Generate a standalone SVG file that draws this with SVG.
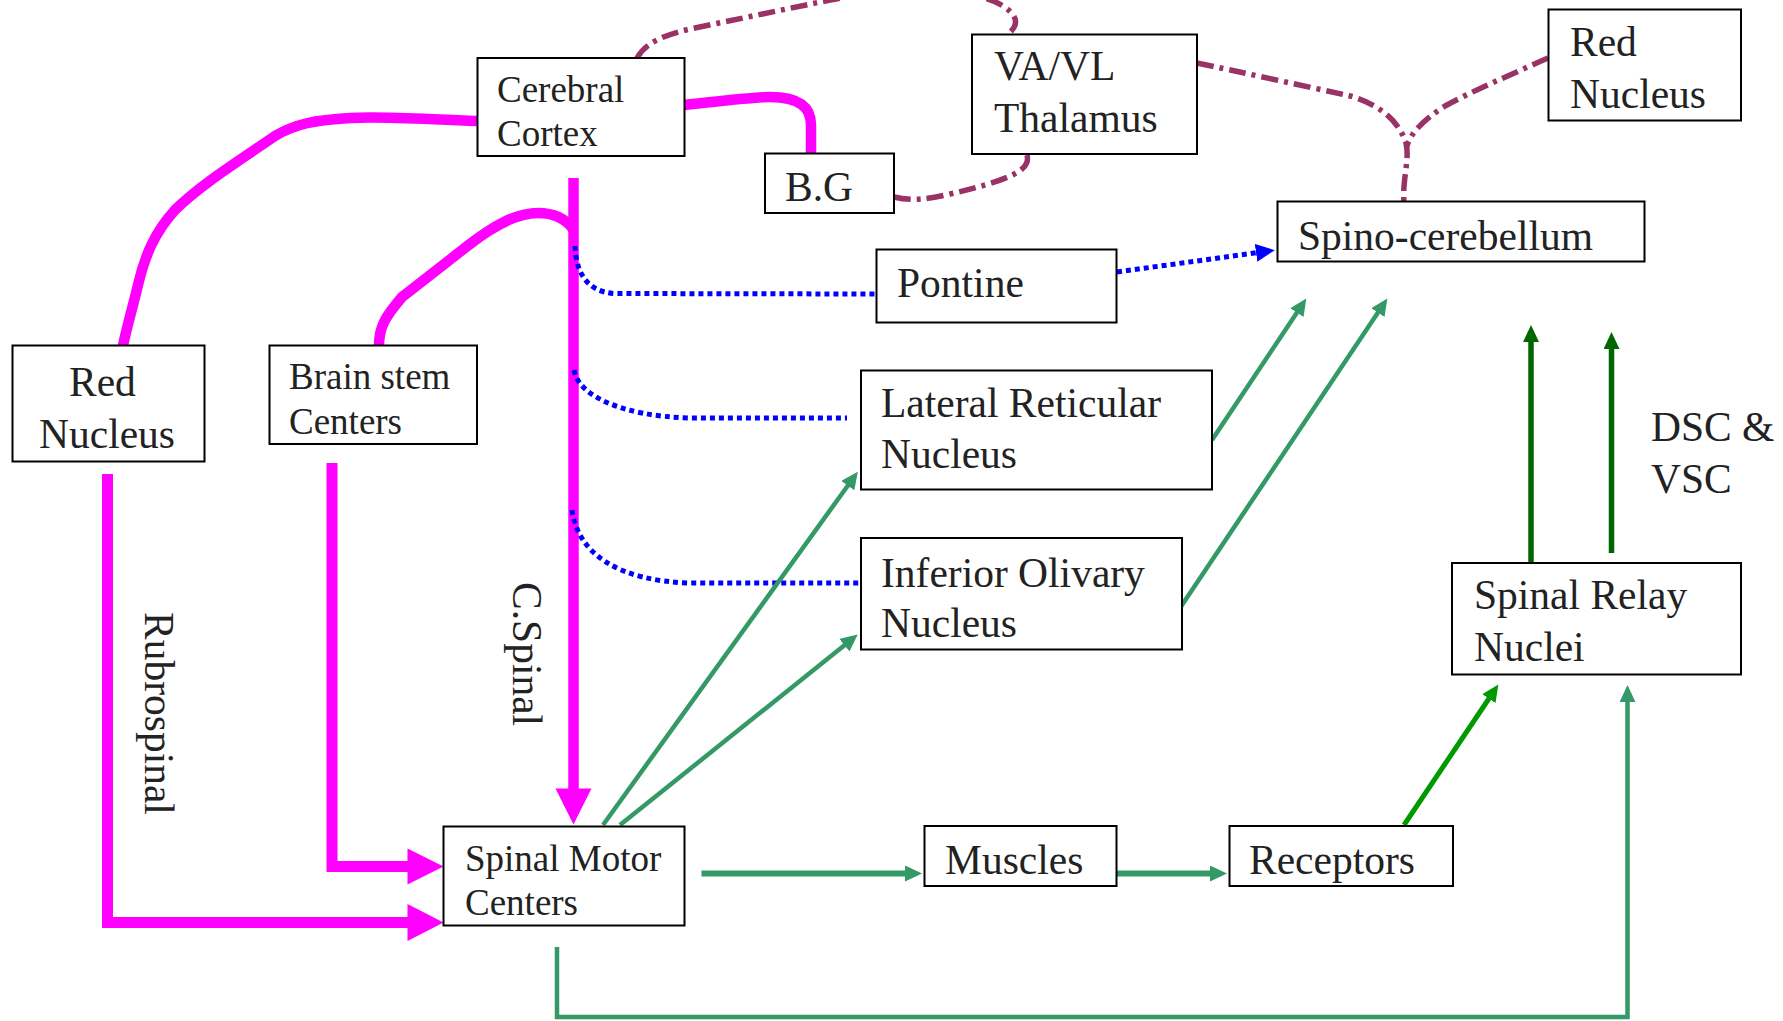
<svg xmlns="http://www.w3.org/2000/svg" width="1783" height="1021" viewBox="0 0 1783 1021">
<style>
.box{fill:#fff;stroke:#000;stroke-width:2}
.t{font-family:"Liberation Serif","Times New Roman",serif;fill:#222;font-size:41.5px}
.s{font-size:37px}
.mag{fill:none;stroke:#ff00ff;stroke-width:10.5;stroke-linejoin:miter}
.blue{fill:none;stroke:#0000ff;stroke-width:5;stroke-dasharray:5 4}
.grn{fill:none;stroke:#339966;stroke-width:4.5}
.pur{fill:none;stroke:#993366;stroke-width:5.5;stroke-dasharray:17 6 4 6}
</style>
<defs>
<marker id="ag" markerUnits="userSpaceOnUse" markerWidth="20" markerHeight="20" refX="2" refY="8" orient="auto"><path d="M0,0 L17,8 L0,16 Z" fill="#339966"/></marker>
<marker id="ab" markerUnits="userSpaceOnUse" markerWidth="22" markerHeight="20" refX="2" refY="9" orient="auto"><path d="M0,0 L19,9 L0,18 Z" fill="#0000ff"/></marker>
<marker id="abg" markerUnits="userSpaceOnUse" markerWidth="20" markerHeight="20" refX="2" refY="8" orient="auto"><path d="M0,0 L17,8 L0,16 Z" fill="#009900"/></marker>
<marker id="adg" markerUnits="userSpaceOnUse" markerWidth="20" markerHeight="20" refX="2" refY="8" orient="auto"><path d="M0,0 L17,8 L0,16 Z" fill="#006600"/></marker>
</defs>
<rect width="1783" height="1021" fill="#fff"/>
<g id="connectors">
<!-- magenta -->
<path class="mag" d="M477,121 C 420,119 380,116 350,118 C 315,120 295,124 275,136 C 240,160 200,185 175,210 C 155,232 145,255 138,285 C 132,310 126,330 123,346"/>
<path class="mag" d="M684,105 C 720,101 750,97 770,97 C 800,97 811,108 811,125 L 811,154"/>
<path class="mag" d="M573.5,178 L 573.5,790"/>
<polygon points="555.5,788.5 591.5,788.5 573.5,824.5" fill="#ff00ff"/>
<path class="mag" d="M573,229 C 565,218 552,213 538,213 C 515,213 492,227 470,244 L 402,297 C 386,316 379,326 379,346"/>
<path class="mag" style="stroke-width:11" d="M107.5,474 L 107.5,922.5 L 409,922.5"/>
<polygon points="407.5,904 443.5,922.5 407.5,941" fill="#ff00ff"/>
<path class="mag" style="stroke-width:11" d="M332,463 L 332,866.5 L 409,866.5"/>
<polygon points="407.5,848.5 443.5,866.5 407.5,884.5" fill="#ff00ff"/>
<!-- blue dotted -->
<path class="blue" d="M575,246 C 576,270 585,292 615,293.5 L 876,294"/>
<path class="blue" d="M574,370 C 578,395 620,416 690,418 L 847,418"/>
<path class="blue" d="M572,510 C 578,555 620,581 690,583 L 860,583"/>
<path class="blue" d="M1117,272 L 1258,252.5" marker-end="url(#ab)"/>
<!-- green -->
<path class="grn" d="M603,825 L 849,484" marker-end="url(#ag)"/>
<path class="grn" d="M620,825 L 846,644" marker-end="url(#ag)"/>
<path class="grn" d="M1212,440 L 1298,311" marker-end="url(#ag)"/>
<path class="grn" d="M1180,608 L 1379,311" marker-end="url(#ag)"/>
<path class="grn" style="stroke-width:6" d="M701.5,873.5 L 907,873.5" marker-end="url(#ag)"/>
<path class="grn" style="stroke-width:6" d="M1117,873.5 L 1212,873.5" marker-end="url(#ag)"/>
<path class="grn" d="M557,947 L 557,1017 L 1627.5,1017 L 1627.5,700" marker-end="url(#ag)"/>
<path fill="none" stroke="#009900" stroke-width="5" d="M1404,825 L 1490,697" marker-end="url(#abg)"/>
<path fill="none" stroke="#006600" stroke-width="5.5" d="M1531,563 L 1531,340" marker-end="url(#adg)"/>
<path fill="none" stroke="#006600" stroke-width="5.5" d="M1611.5,553 L 1611.5,347" marker-end="url(#adg)"/>
<!-- purple dash-dot -->
<path class="pur" d="M637,58 C 645,44 660,36 690,29 L 830,0 C 900,-14 975,-12 1003,6 C 1022,18 1016,28 1007,35"/>
<path class="pur" d="M894,197 C 910,201 925,200 950,194 C 985,186 1010,178 1021,170 C 1028,164 1028,160 1027,154"/>
<path class="pur" d="M1197,63 C 1240,72 1300,85 1350,96 C 1385,106 1400,125 1406,143 C 1410,160 1402,180 1404,202"/>
<path class="pur" d="M1548,58 C 1510,75 1470,92 1445,106 C 1425,119 1411,132 1407,146"/>
</g>
<g id="cerebral-cortex"><rect class="box" x="477.5" y="58" width="207" height="98"/><text class="t s" x="497" y="102">Cerebral</text><text class="t s" x="497" y="145.5">Cortex</text></g>
<g id="bg"><rect class="box" x="765" y="153.5" width="129" height="59.5"/><text class="t" x="785" y="201">B.G</text></g>
<g id="vavl-thalamus"><rect class="box" x="972" y="34.5" width="225" height="119.5"/><text class="t" x="994" y="80">VA/VL</text><text class="t" x="994" y="131.5">Thalamus</text></g>
<g id="red-nucleus-right"><rect class="box" x="1548.5" y="9.5" width="192.5" height="111"/><text class="t" x="1570" y="56">Red</text><text class="t" x="1570" y="107.5">Nucleus</text></g>
<g id="spino-cerebellum"><rect class="box" x="1277.5" y="201.5" width="367" height="60"/><text class="t" x="1298" y="250">Spino-cerebellum</text></g>
<g id="pontine"><rect class="box" x="876.5" y="249.5" width="240" height="73"/><text class="t" x="897" y="296.5">Pontine</text></g>
<g id="lateral-reticular"><rect class="box" x="861" y="370.5" width="351" height="119"/><text class="t" x="881" y="416.5">Lateral Reticular</text><text class="t" x="881" y="468">Nucleus</text></g>
<g id="inferior-olivary"><rect class="box" x="861" y="538" width="321" height="111.5"/><text class="t" x="881" y="586.5">Inferior Olivary</text><text class="t" x="881" y="636.5">Nucleus</text></g>
<g id="spinal-relay"><rect class="box" x="1452" y="563" width="289" height="111.5"/><text class="t" x="1474" y="609">Spinal Relay</text><text class="t" x="1474" y="660.5">Nuclei</text></g>
<g id="spinal-motor"><rect class="box" x="443.5" y="826.5" width="241" height="99"/><text class="t s" x="465" y="870.5">Spinal Motor</text><text class="t s" x="465" y="915">Centers</text></g>
<g id="muscles"><rect class="box" x="924.5" y="826" width="192" height="60"/><text class="t" x="945" y="874">Muscles</text></g>
<g id="receptors"><rect class="box" x="1229.5" y="826" width="223.5" height="60"/><text class="t" x="1249" y="874">Receptors</text></g>
<g id="red-nucleus-left"><rect class="box" x="12.5" y="345.5" width="192" height="116"/><text class="t" x="69" y="396">Red</text><text class="t" x="39" y="448">Nucleus</text></g>
<g id="brain-stem"><rect class="box" x="269.5" y="345.5" width="207.5" height="98.5"/><text class="t s" x="289" y="389">Brain stem</text><text class="t s" x="289" y="434">Centers</text></g>
<g id="labels">
<text class="t" x="1651" y="440.5">DSC &amp;</text>
<text class="t" x="1651" y="492.5">VSC</text>
<text class="t" transform="translate(145,612) rotate(90)">Rubrospinal</text>
<text class="t" transform="translate(513,582) rotate(90)">C.Spinal</text>
</g>
</svg>
